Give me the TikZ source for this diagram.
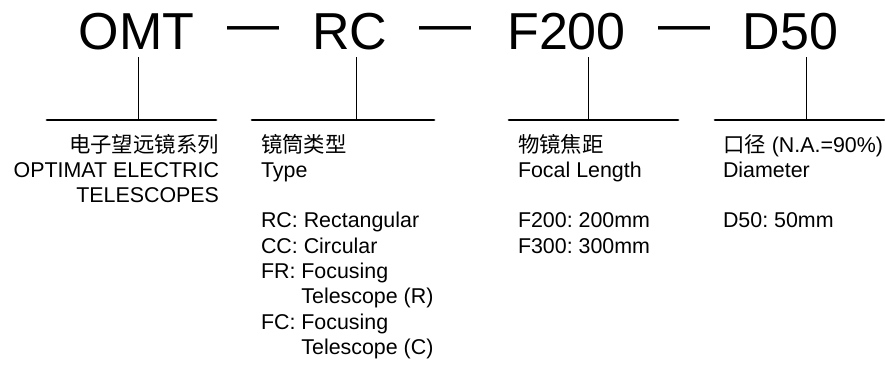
\documentclass[tikz,border=0pt]{standalone}
\usepackage{fontspec}
\setmainfont{Liberation Sans}
\newfontfamily\cjk{Noto Sans CJK SC}
\usetikzlibrary{positioning}

\begin{document}
\frenchspacing
\begin{tikzpicture}[x=1pt, y=-1pt,
  every node/.style={inner sep=0pt, outer sep=0pt},
  code/.style={font=\fontsize{52}{60}\selectfont, anchor=base},
  sep/.style={font=\fontsize{52}{60}\selectfont, anchor=base},
  desc/.style={font=\fontsize{21.4}{25.3}\selectfont, align=left, anchor=base west},
  bar/.style={line width=2.7pt, line cap=round},
  tick/.style={line width=0.8pt}
]
\useasboundingbox (0,0) rectangle (885,366);

% model code
\node[code] (omt)  at (136.5,50) {OMT};
\node[code] (rc)   at (350,50)   {RC};
\node[code] (f200) at (566.5,50) {F200};
\node[code] (d50)  at (790.5,50) {D50};
\node[sep] (s1) at (253,42)   {—};
\node[sep] (s2) at (445.5,42) {—};
\node[sep] (s3) at (684.5,42) {—};

% bars and ticks
\coordinate (b1) at (138,120);
\coordinate (b2) at (356,120);
\coordinate (b3) at (588,120);
\coordinate (b4) at (806,120);
\draw[bar] (47,120) -- (216,120);
\draw[bar] (252,120) -- (434,120);
\draw[bar] (509,120) -- (678,120);
\draw[bar] (715,120) -- (884,120);
\draw[tick] (b1) -- ++(0,-63);
\draw[tick] (b2) -- ++(0,-63);
\draw[tick] (b3) -- ++(0,-63);
\draw[tick] (b4) -- ++(0,-63);

% descriptions (anchored on the last line)
\node[desc, align=right, anchor=base east] (series) at (219,202.6)
  {{\cjk 电子望远镜系列}\\OPTIMAT ELECTRIC\\TELESCOPES};
\node[desc] (type) at (261,354.4)
  {{\cjk 镜筒类型}\\Type\\ \\RC: Rectangular\\CC: Circular\\FR: Focusing\\
   \phantom{FR: }Telescope (R)\\FC: Focusing\\\phantom{FC: }Telescope (C)};
\node[desc] (focal) at (518,253.2)
  {{\cjk 物镜焦距}\\Focal Length\\ \\F200: 200mm\\F300: 300mm};
\node[desc] (diam) at (723,227.9)
  {{\cjk 口径} (N.A.=90\%)\\Diameter\\ \\D50: 50mm};
\end{tikzpicture}
\end{document}
